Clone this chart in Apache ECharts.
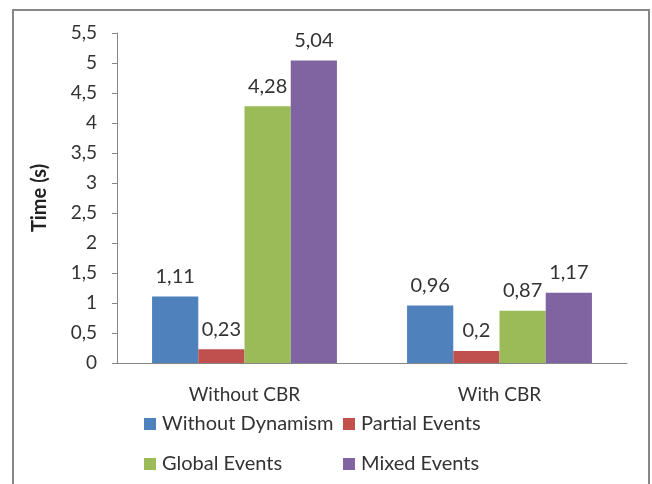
<!DOCTYPE html>
<html>
<head>
<meta charset="utf-8">
<script src="https://cdn.jsdelivr.net/npm/echarts@6/dist/echarts.min.js"></script>
<style>
  html, body { margin: 0; padding: 0; background: #fff; }
  #chart { width: 652px; height: 484px; }
</style>
</head>
<body>
<div id="chart"></div>
<script>
// Processing time by scenario
const categories = ['Without CBR', 'With CBR'];
const seriesNames = ['Without Dynamism', 'Partial Events', 'Global Events', 'Mixed Events'];
const withoutDynamism = [1.11, 0.96];
const partialEvents = [0.23, 0.2];
const globalEvents = [4.28, 0.87];
const mixedEvents = [5.04, 1.17];
const yTicks = [0, 0.5, 1, 1.5, 2, 2.5, 3, 3.5, 4, 4.5, 5, 5.5];

const colors = ['#4F81BD', '#C0504D', '#9BBB59', '#8064A2'];
const seriesValues = [withoutDynamism, partialEvents, globalEvents, mixedEvents];
const FONT = 'Lato';
const comma = v => String(v).replace('.', ',');

const chart = echarts.init(document.getElementById('chart'));

const legendPos = [
  { left: 139, top: 409 },
  { left: 338, top: 409 },
  { left: 139, top: 449 },
  { left: 338, top: 449 }
];

chart.setOption({
  animation: false,
  color: colors,
  graphic: [{
    type: 'rect',
    shape: { x: 13, y: 10, width: 636, height: 500 },
    style: { fill: 'none', stroke: '#878787', lineWidth: 2 },
    silent: true
  }],
  grid: { left: 117, right: 25, top: 33, bottom: 121 },
  legend: seriesNames.map((n, i) => ({
    data: [n],
    left: legendPos[i].left,
    top: legendPos[i].top,
    itemWidth: 12,
    itemHeight: 12,
    itemGap: 6,
    icon: 'rect',
    textStyle: { fontFamily: FONT, fontSize: 20, color: '#333', padding: [0, 0, 0, 1] }
  })),
  xAxis: {
    type: 'category',
    data: categories,
    axisLine: { lineStyle: { color: '#868686', width: 1 } },
    axisTick: { show: false },
    axisLabel: { fontFamily: FONT, fontSize: 19, color: '#333', margin: 22 }
  },
  yAxis: {
    type: 'value',
    min: yTicks[0],
    max: yTicks[yTicks.length - 1],
    interval: 0.5,
    name: 'Time (s)',
    nameLocation: 'middle',
    nameGap: 67,
    nameRotate: 90,
    nameTextStyle: { fontFamily: FONT, fontSize: 20, fontWeight: 'bold', color: '#222' },
    axisLine: { show: true, lineStyle: { color: '#868686', width: 1 } },
    axisTick: { show: true, length: 5, lineStyle: { color: '#868686' } },
    splitLine: { show: false },
    axisLabel: { fontFamily: FONT, fontSize: 19, color: '#333', margin: 20, formatter: comma }
  },
  series: seriesNames.map((n, i) => ({
    name: n,
    type: 'bar',
    data: seriesValues[i],
    barGap: '0%',
    barCategoryGap: '27.5%',
    label: {
      show: true,
      position: 'top',
      distance: 10,
      fontFamily: FONT,
      fontSize: 20,
      color: '#333',
      formatter: p => comma(p.value)
    }
  }))
});
</script>
</body>
</html>
